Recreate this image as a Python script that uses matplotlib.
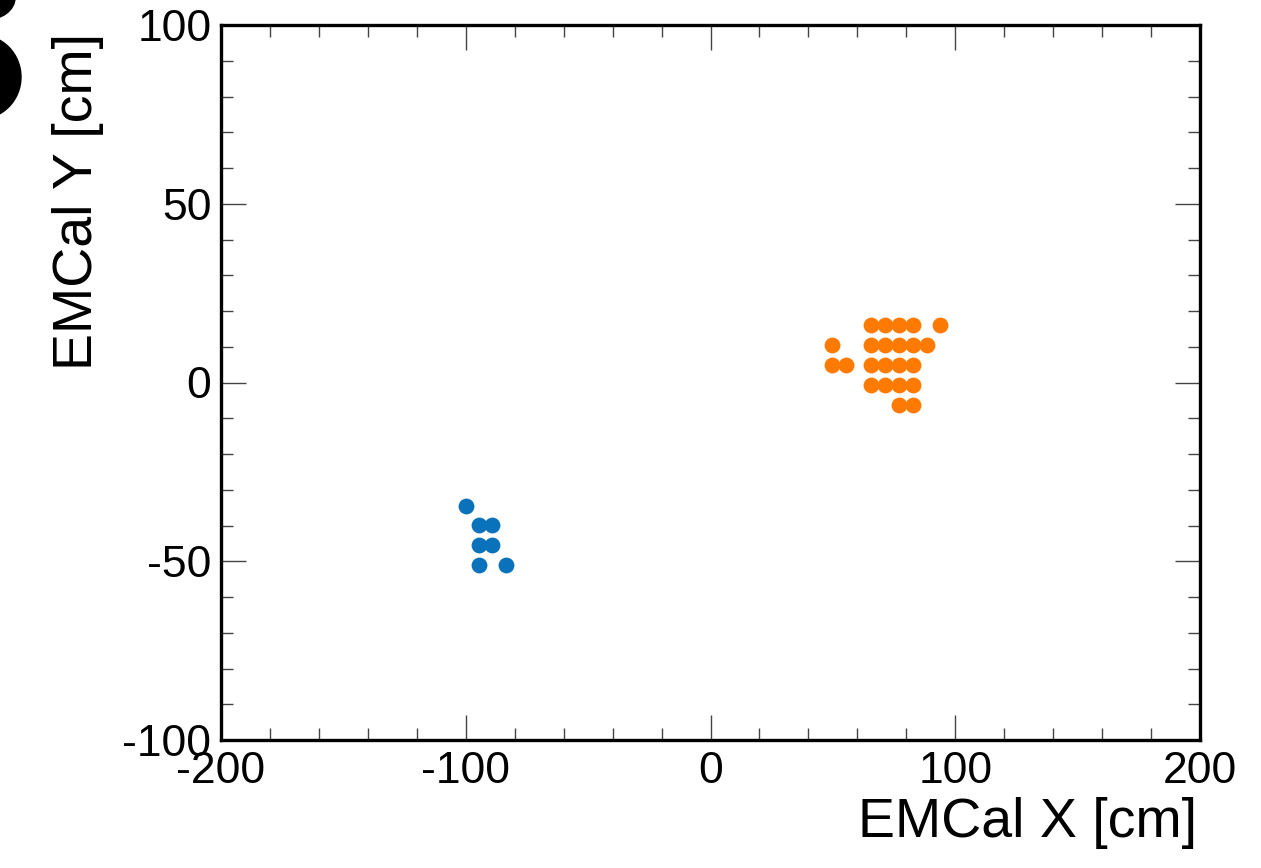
import matplotlib
matplotlib.use('Agg')
import matplotlib.pyplot as plt
from matplotlib.patches import Ellipse
from matplotlib.ticker import MultipleLocator

# cluster hits (cm)
blue_x = [-100.0, -94.6, -89.2, -94.6, -89.2, -94.6, -83.7]
blue_y = [-34.5, -39.9, -39.9, -45.5, -45.5, -51.0, -51.0]

orange_x = [65.6, 71.3, 77.0, 82.7, 93.8,
            49.6, 65.6, 71.3, 77.0, 82.7, 88.5,
            49.6, 55.2, 65.6, 71.3, 77.0, 82.7,
            65.6, 71.3, 77.0, 82.7,
            77.0, 82.7]
orange_y = [16.1, 16.1, 16.1, 16.1, 16.1,
            10.5, 10.5, 10.5, 10.5, 10.5, 10.5,
            4.9, 4.9, 4.9, 4.9, 4.9, 4.9,
            -0.7, -0.7, -0.7, -0.7,
            -6.3, -6.3]

plt.rcParams['font.family'] = ['Liberation Sans', 'DejaVu Sans']
plt.rcParams['font.size'] = 32
plt.rcParams['axes.unicode_minus'] = False

fig = plt.figure(figsize=(12.61, 8.68), dpi=100)

# cut-off panel letter in the top-left corner
bg = fig.add_axes([0, 0, 1, 1], zorder=0)
bg.set_xlim(0, 1261)
bg.set_ylim(868, 0)
bg.axis('off')
bg.add_patch(Ellipse((-20, 77), 82, 84, color='black'))
bg.add_patch(Ellipse((-15, -2), 60, 44, color='black'))

ax = fig.add_axes([221 / 1261, 128 / 868, 979 / 1261, 715 / 868], zorder=1)
ax.patch.set_alpha(0)

ax.scatter(blue_x, blue_y, s=130, color='#0a72bb', linewidths=0, zorder=3)
ax.scatter(orange_x, orange_y, s=130, color='#ff7a00', linewidths=0, zorder=3)

ax.set_xlim(-200, 200)
ax.set_ylim(-100, 100)
ax.xaxis.set_major_locator(MultipleLocator(100))
ax.xaxis.set_minor_locator(MultipleLocator(20))
ax.yaxis.set_major_locator(MultipleLocator(50))
ax.yaxis.set_minor_locator(MultipleLocator(10))

for s in ax.spines.values():
    s.set_linewidth(2.4)
ax.tick_params(which='both', direction='in', top=True, right=True, width=1.0, color='#444444')
ax.tick_params(which='major', length=18)
ax.tick_params(which='minor', length=8.6)
ax.tick_params(axis='x', which='major', pad=8)
ax.tick_params(axis='y', which='major', pad=7)

ax.set_xlabel('EMCal X [cm]', fontsize=40, ha='right', va='baseline')
ax.xaxis.set_label_coords(0.997, -0.1357)
ax.set_ylabel('EMCal Y [cm]', fontsize=40, ha='right', va='baseline')
ax.yaxis.set_label_coords(-0.1318, 0.989)

fig.savefig('out.png', dpi=100)
